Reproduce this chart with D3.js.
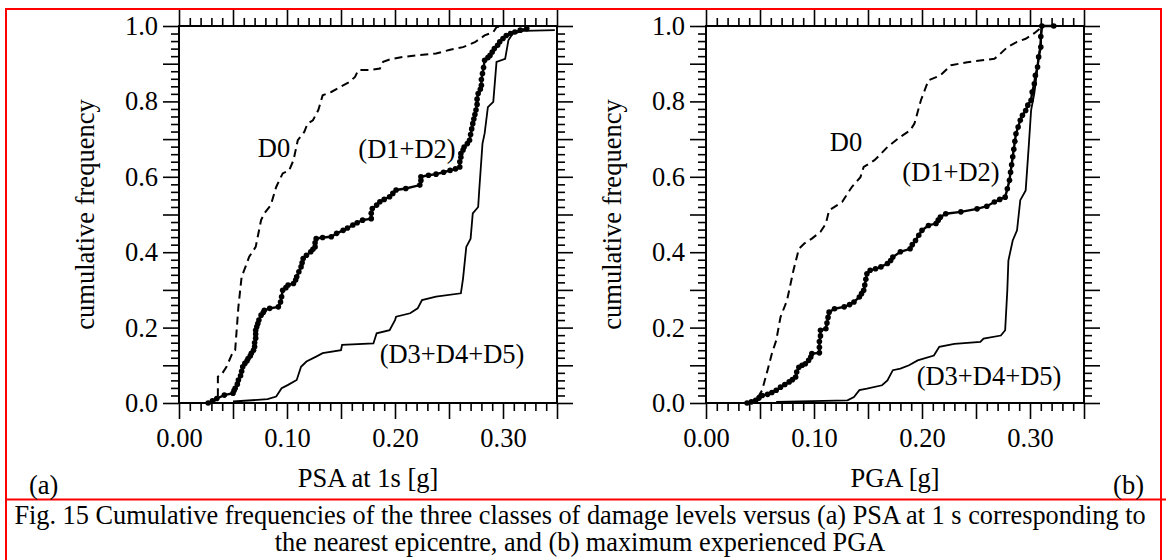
<!DOCTYPE html>
<html><head><meta charset="utf-8">
<script src="https://cdn.jsdelivr.net/npm/d3@7"></script>
<style>
html,body{margin:0;padding:0;background:#fff;}
svg{display:block;font-family:"Liberation Serif","Times New Roman",serif;}
</style></head>
<body><svg id="c" width="1166" height="560"></svg>
<script>
// ---------- data ----------
const xMajorTicks = [0,0.05,0.10,0.15,0.20,0.25,0.30,0.35];
const xLabelTicks = [0,0.10,0.20,0.30];
const yMajorTicks = [0,0.1,0.2,0.3,0.4,0.5,0.6,0.7,0.8,0.9,1.0];
const yLabelTicks = [0,0.2,0.4,0.6,0.8,1.0];
const seriesNames = ["D0","(D1+D2)","(D3+D4+D5)"];

// Panel (a): PSA at 1 s
const psaD0 = [[0.027,0],[0.032,0.004],[0.036,0.012],[0.036,0.070],[0.039,0.074],[0.044,0.096],[0.050,0.136],[0.052,0.140],
 [0.055,0.255],[0.058,0.335],[0.061,0.357],[0.065,0.388],[0.071,0.414],[0.076,0.485],[0.079,0.503],[0.085,0.525],
 [0.090,0.573],[0.096,0.609],[0.102,0.617],[0.106,0.644],[0.110,0.697],[0.116,0.719],[0.119,0.741],[0.124,0.750],
 [0.129,0.777],[0.133,0.816],[0.141,0.825],[0.149,0.838],[0.158,0.852],[0.163,0.865],[0.166,0.883],[0.177,0.883],
 [0.186,0.887],[0.189,0.905],[0.195,0.911],[0.207,0.918],[0.220,0.922],[0.238,0.927],[0.251,0.937],[0.263,0.944],
 [0.274,0.957],[0.283,0.975],[0.291,0.984],[0.294,0.997],[0.300,1.0]];
const psaD12 = [[0.027,0],[0.031,0.006],[0.035,0.012],[0.042,0.021],[0.050,0.026],[0.051,0.033],[0.052,0.039],[0.054,0.050],
 [0.055,0.061],[0.057,0.072],[0.058,0.084],[0.059,0.096],[0.061,0.105],[0.063,0.112],[0.064,0.118],[0.066,0.125],
 [0.067,0.132],[0.069,0.140],[0.070,0.149],[0.070,0.160],[0.071,0.172],[0.071,0.183],[0.071,0.193],[0.072,0.202],
 [0.073,0.211],[0.074,0.220],[0.076,0.233],[0.078,0.240],[0.079,0.246],[0.084,0.251],[0.092,0.255],[0.094,0.268],
 [0.095,0.282],[0.096,0.299],[0.099,0.306],[0.101,0.313],[0.106,0.317],[0.108,0.326],[0.109,0.335],[0.111,0.348],
 [0.113,0.361],[0.114,0.372],[0.115,0.383],[0.118,0.392],[0.122,0.401],[0.124,0.408],[0.126,0.414],[0.126,0.425],
 [0.127,0.436],[0.133,0.439],[0.141,0.441],[0.146,0.450],[0.152,0.458],[0.156,0.464],[0.161,0.472],[0.165,0.478],
 [0.170,0.485],[0.178,0.489],[0.178,0.503],[0.179,0.516],[0.183,0.525],[0.186,0.534],[0.190,0.540],[0.195,0.547],
 [0.198,0.556],[0.201,0.565],[0.210,0.569],[0.223,0.578],[0.224,0.590],[0.224,0.600],[0.231,0.604],[0.238,0.607],
 [0.245,0.612],[0.251,0.617],[0.256,0.621],[0.260,0.626],[0.260,0.640],[0.261,0.652],[0.261,0.662],[0.263,0.671],
 [0.264,0.679],[0.267,0.688],[0.269,0.697],[0.270,0.712],[0.271,0.727],[0.272,0.741],[0.273,0.753],[0.274,0.765],
 [0.275,0.777],[0.276,0.792],[0.276,0.806],[0.277,0.821],[0.279,0.832],[0.280,0.843],[0.280,0.858],[0.281,0.874],
 [0.282,0.890],[0.283,0.909],[0.286,0.916],[0.288,0.922],[0.290,0.931],[0.292,0.940],[0.295,0.949],[0.297,0.958],
 [0.300,0.967],[0.303,0.975],[0.307,0.980],[0.311,0.984],[0.316,0.989],[0.322,0.993]];
const psaD345 = [[0.050,0.004],[0.082,0.010],[0.090,0.017],[0.095,0.039],[0.101,0.048],[0.109,0.061],[0.113,0.096],
 [0.118,0.110],[0.127,0.123],[0.133,0.132],[0.150,0.140],[0.151,0.154],[0.180,0.158],[0.183,0.185],[0.195,0.193],
 [0.200,0.220],[0.201,0.229],[0.214,0.238],[0.221,0.251],[0.225,0.273],[0.238,0.282],[0.261,0.291],[0.263,0.330],
 [0.266,0.414],[0.270,0.436],[0.272,0.503],[0.277,0.520],[0.278,0.565],[0.281,0.688],[0.283,0.715],[0.286,0.785],
 [0.291,0.799],[0.294,0.905],[0.302,0.913],[0.305,0.962],[0.309,0.980],[0.319,0.987],[0.348,0.989]];

// Panel (b): PGA
const pgaD0 = [[0.037,0],[0.044,0.007],[0.049,0.020],[0.052,0.034],[0.057,0.087],[0.061,0.131],[0.065,0.166],[0.069,0.228],
 [0.075,0.272],[0.081,0.352],[0.086,0.409],[0.091,0.423],[0.098,0.436],[0.106,0.454],[0.111,0.476],[0.114,0.511],
 [0.119,0.520],[0.126,0.533],[0.131,0.555],[0.135,0.573],[0.143,0.599],[0.146,0.626],[0.156,0.644],[0.162,0.661],
 [0.168,0.679],[0.180,0.706],[0.189,0.723],[0.193,0.741],[0.199,0.803],[0.206,0.856],[0.217,0.869],[0.227,0.896],
 [0.242,0.904],[0.267,0.913],[0.271,0.922],[0.279,0.944],[0.288,0.958],[0.296,0.966],[0.304,0.981],[0.310,0.995],[0.311,1.0]];
const pgaD12 = [[0.038,0],[0.042,0.003],[0.046,0.007],[0.049,0.013],[0.052,0.020],[0.057,0.023],[0.061,0.028],[0.065,0.034],
 [0.069,0.042],[0.073,0.049],[0.077,0.056],[0.080,0.062],[0.083,0.069],[0.084,0.082],[0.086,0.095],[0.089,0.100],
 [0.092,0.104],[0.095,0.113],[0.097,0.122],[0.098,0.131],[0.105,0.133],[0.105,0.148],[0.105,0.163],[0.106,0.178],
 [0.106,0.193],[0.111,0.197],[0.112,0.212],[0.113,0.227],[0.114,0.241],[0.119,0.250],[0.128,0.255],[0.133,0.261],
 [0.137,0.268],[0.142,0.281],[0.144,0.290],[0.146,0.299],[0.147,0.313],[0.148,0.328],[0.149,0.343],[0.152,0.352],
 [0.157,0.356],[0.162,0.361],[0.168,0.370],[0.171,0.378],[0.173,0.387],[0.180,0.401],[0.189,0.409],[0.191,0.420],
 [0.194,0.431],[0.197,0.445],[0.200,0.458],[0.206,0.471],[0.213,0.476],[0.215,0.485],[0.217,0.493],[0.222,0.502],
 [0.236,0.507],[0.251,0.515],[0.260,0.522],[0.267,0.533],[0.272,0.540],[0.277,0.546],[0.279,0.568],[0.281,0.591],
 [0.282,0.612],[0.283,0.632],[0.284,0.653],[0.285,0.673],[0.286,0.694],[0.287,0.714],[0.289,0.732],[0.291,0.750],
 [0.293,0.763],[0.296,0.776],[0.298,0.790],[0.301,0.803],[0.302,0.825],[0.304,0.847],[0.305,0.869],[0.307,0.891],
 [0.308,0.918],[0.310,0.944],[0.310,0.972],[0.311,1.0],[0.322,1.0]];
const pgaD345 = [[0.065,0.003],[0.131,0.007],[0.137,0.016],[0.142,0.034],[0.149,0.038],[0.163,0.047],[0.168,0.060],
 [0.173,0.087],[0.180,0.091],[0.188,0.100],[0.196,0.113],[0.211,0.126],[0.216,0.149],[0.230,0.157],[0.254,0.162],
 [0.257,0.171],[0.273,0.179],[0.277,0.193],[0.279,0.299],[0.280,0.378],[0.284,0.431],[0.288,0.458],[0.291,0.538],
 [0.296,0.564],[0.299,0.688],[0.301,0.776],[0.304,0.821],[0.307,0.891],[0.310,0.962],[0.311,1.0]];

const panelLabels = ["(a)","(b)"];
const xTitles = ["PSA at 1s [g]","PGA [g]"];
const yTitle = "cumulative frequency";
const caption1 = "Fig. 15 Cumulative frequencies of the three classes of damage levels versus (a) PSA at 1 s corresponding to";
const caption2 = "the nearest epicentre, and (b) maximum experienced PGA";

// ---------- drawing ----------
const svg = d3.select("#c");
const FS = 26.5;

// red frame
svg.append("rect").attr("x",6).attr("y",9).attr("width",1155).attr("height",560).attr("fill","none").attr("stroke","#ff0000").attr("stroke-width",2);
svg.append("line").attr("x1",6).attr("x2",1166).attr("y1",499.5).attr("y2",499.5).attr("stroke","#ff0000").attr("stroke-width",2);

const panels = [
  {x0:179, data:[psaD0,psaD12,psaD345], labels:[[274,148],[407,149],[452,354]], xt:xTitles[0], pl:panelLabels[0], plx:29, anchor:"start"},
  {x0:706, data:[pgaD0,pgaD12,pgaD345], labels:[[846,142],[951,172],[989,376]], xt:xTitles[1], pl:panelLabels[1], plx:1144, anchor:"end"}
];

panels.forEach(p=>{
  const x = d3.scaleLinear().domain([0,0.35]).range([p.x0,p.x0+378]);
  const y = d3.scaleLinear().domain([0,1]).range([403,26]);
  const g = svg.append("g");
  const minorX = d3.range(0,36).map(i=>i/100).filter(v=>!xMajorTicks.some(m=>Math.abs(m-v)<1e-9));
  const minorY = d3.range(0,51).map(i=>i/50).filter(v=>!yMajorTicks.some(m=>Math.abs(m-v)<1e-9));
  const fmtX = v => xLabelTicks.some(m=>Math.abs(m-v)<1e-9) ? d3.format(".2f")(v) : "";
  const fmtY = v => yLabelTicks.some(m=>Math.abs(m-v)<1e-9) ? d3.format(".1f")(v) : "";
  function ax(gen, tr, vals, size, fmt, pad){
    const a = g.append("g").attr("transform",tr)
      .call(gen.tickValues(vals).tickSize(size).tickSizeOuter(0).tickPadding(pad).tickFormat(fmt));
    a.select(".domain").remove();
    a.selectAll("line").attr("stroke","#000").attr("stroke-width",1.6);
    a.selectAll("text").attr("font-size",FS).attr("fill","#000").attr("font-family","Liberation Serif");
  }
  ax(d3.axisBottom(x),`translate(0,403)`,xMajorTicks,16,fmtX,9);
  ax(d3.axisBottom(x),`translate(0,403)`,minorX,8,()=>"",0);
  ax(d3.axisTop(x),`translate(0,26)`,xMajorTicks,16,()=>"",0);
  ax(d3.axisTop(x),`translate(0,26)`,minorX,8,()=>"",0);
  ax(d3.axisLeft(y),`translate(${p.x0},0)`,yMajorTicks,16,fmtY,5);
  ax(d3.axisLeft(y),`translate(${p.x0},0)`,minorY,8,()=>"",0);
  ax(d3.axisRight(y),`translate(${p.x0+378},0)`,yMajorTicks,16,()=>"",0);
  ax(d3.axisRight(y),`translate(${p.x0+378},0)`,minorY,8,()=>"",0);
  g.append("rect").attr("x",x(0)).attr("y",y(1)).attr("width",x(0.35)-x(0)).attr("height",y(0)-y(1))
    .attr("fill","none").attr("stroke","#000").attr("stroke-width",2);

  const line = d3.line().x(d=>x(d[0])).y(d=>y(d[1]));
  g.append("path").datum(p.data[0]).attr("d",line).attr("fill","none").attr("stroke","#000").attr("stroke-width",2).attr("stroke-dasharray","8,5");
  g.append("path").datum(p.data[2]).attr("d",line).attr("fill","none").attr("stroke","#000").attr("stroke-width",1.8);
  g.append("path").datum(p.data[1]).attr("d",line).attr("fill","none").attr("stroke","#000").attr("stroke-width",2.4);
  g.selectAll("circle.d").data(p.data[1]).enter().append("circle").attr("class","d")
    .attr("cx",d=>x(d[0])).attr("cy",d=>y(d[1])).attr("r",2.8).attr("fill","#000");

  seriesNames.forEach((n,i)=>{
    g.append("text").attr("x",p.labels[i][0]).attr("y",p.labels[i][1]).attr("dy","0.35em").attr("text-anchor","middle")
      .attr("font-size",FS).text(n);
  });
  g.append("text").attr("x",(x(0)+x(0.35))/2).attr("y",487).attr("text-anchor","middle").attr("font-size",FS).text(p.xt);
  g.append("text").attr("transform",`translate(${p.x0-85},${(y(0)+y(1))/2}) rotate(-90)`).attr("text-anchor","middle")
    .attr("font-size",FS).text(yTitle);
  g.append("text").attr("x",p.plx).attr("y",494).attr("text-anchor",p.anchor).attr("font-size",FS).text(p.pl);
});

svg.append("text").attr("x",580).attr("y",524).attr("text-anchor","middle").attr("font-size",26.3).text(caption1);
svg.append("text").attr("x",580).attr("y",551).attr("text-anchor","middle").attr("font-size",26.3).text(caption2);
</script></body></html>
